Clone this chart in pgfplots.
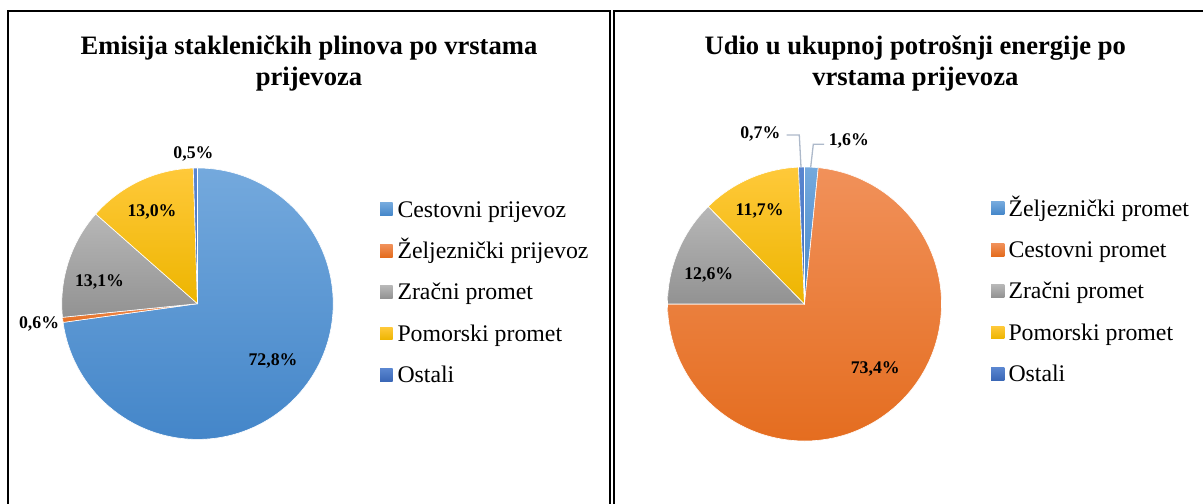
\documentclass[border=0pt]{standalone}
\usepackage{pgfplots}
\pgfplotsset{compat=1.18}
\usepackage{pgfplotstable}
\usepackage{fontspec}
\setmainfont{Liberation Serif}

\definecolor{C0T}{HTML}{74A9DD}
\definecolor{C0B}{HTML}{4486C9}
\definecolor{C1T}{HTML}{F1915A}
\definecolor{C1B}{HTML}{E46C1E}
\definecolor{C2T}{HTML}{B7B7B7}
\definecolor{C2B}{HTML}{929292}
\definecolor{C3T}{HTML}{FFC93A}
\definecolor{C3B}{HTML}{EDB500}
\definecolor{C4T}{HTML}{5A86D0}
\definecolor{C4B}{HTML}{3A67B6}
\definecolor{leader}{HTML}{ADB9CA}

% value = share in %, lx/ly = label centre relative to pie centre (px)
\pgfplotstableread{
value lx ly name
72.8 75.5 -56.3 {Cestovni prijevoz}
0.6 -158.4 -19 {Željeznički prijevoz}
13.1 -98 23 {Zračni promet}
13.0 -45.5 92.7 {Pomorski promet}
0.5 -4 151 {Ostali}
}\leftdata

\pgfplotstableread{
value lx ly name
1.6 44.3 164 {Željeznički promet}
73.4 70.8 -63.7 {Cestovni promet}
12.6 -95.7 30.7 {Zračni promet}
11.7 -44.8 94 {Pomorski promet}
0.7 -44.2 171.3 {Ostali}
}\rightdata

\newcommand\preparepie[4]{%
  \def\cum{0}%
  \pgfplotsforeachungrouped \i in {0,...,4}{%
    \pgfplotstablegetelem{\i}{value}\of{#1}\let\val\pgfplotsretval
    \pgfplotstablegetelem{\i}{lx}\of{#1}\let\lx\pgfplotsretval
    \pgfplotstablegetelem{\i}{ly}\of{#1}\let\ly\pgfplotsretval
    \pgfplotstablegetelem{\i}{name}\of{#1}\let\nm\pgfplotsretval
    \pgfmathsetmacro\sa{90-3.6*\cum}%
    \pgfmathsetmacro\ea{90-3.6*(\cum+\val)}%
    \pgfmathsetmacro\sx{#3*cos(\sa)}%
    \pgfmathsetmacro\sy{#3*sin(\sa)}%
    \pgfmathsetmacro\cum{\cum+\val}%
    \pgfmathsetmacro\lyb{\ly-6}%
    \pgfmathsetmacro\yc{#4-41.4*\i}%
    \pgfmathsetmacro\ylo{\yc-6.35}%
    \pgfmathsetmacro\yhi{\yc+6.35}%
    \pgfmathsetmacro\ytx{\yc-7.8}%
    \expandafter\xdef\csname #2sa\i\endcsname{\sa}%
    \expandafter\xdef\csname #2ea\i\endcsname{\ea}%
    \expandafter\xdef\csname #2sx\i\endcsname{\sx}%
    \expandafter\xdef\csname #2sy\i\endcsname{\sy}%
    \expandafter\xdef\csname #2val\i\endcsname{\val}%
    \expandafter\xdef\csname #2lx\i\endcsname{\lx}%
    \expandafter\xdef\csname #2ly\i\endcsname{\lyb}%
    \expandafter\xdef\csname #2ylo\i\endcsname{\ylo}%
    \expandafter\xdef\csname #2yhi\i\endcsname{\yhi}%
    \expandafter\xdef\csname #2ytx\i\endcsname{\ytx}%
    \expandafter\xdef\csname #2name\i\endcsname{\nm}%
  }%
}
\preparepie{\leftdata}{L}{135.7}{94.4}
\preparepie{\rightdata}{R}{137}{95.7}

\pgfplotsset{pie axis/.style={anchor=center, x=1bp, y=1bp,
  xmin=-150, xmax=150, ymin=-150, ymax=150, hide axis, clip=false,
  disabledatascaling}}

\newcommand\lblfont{\bfseries\fontsize{17.8bp}{20bp}\selectfont}
\newcommand\legfont{\fontsize{23.8bp}{28bp}\selectfont}
\newcommand\titfont{\bfseries\fontsize{26.6bp}{31bp}\selectfont}

\begin{document}
\begin{tikzpicture}[x=1bp,y=1bp]
\useasboundingbox (0,0) rectangle (1203,504);
\draw[line width=1.8bp] (8.3,-5) -- (8.3,493.3) -- (610,493.3) -- (610,-5);
\draw[line width=1.8bp] (613.7,-5) -- (613.7,493.3) -- (1215,493.3);

\node[anchor=base, inner sep=0pt, font=\titfont] at (309,449) {Emisija stakleničkih plinova po vrstama};
\node[anchor=base, inner sep=0pt, font=\titfont] at (309,418) {prijevoza};
\node[anchor=base, inner sep=0pt, font=\titfont] at (915.3,449) {Udio u ukupnoj potrošnji energije po};
\node[anchor=base, inner sep=0pt, font=\titfont] at (915.3,418) {vrstama prijevoza};

\begin{axis}[pie axis, at={(197.5,200.3)}]
\pgfplotsinvokeforeach{0,...,4}{
  \shadedraw[draw=white, line width=0.6bp, top color=C#1T, bottom color=C#1B]
    (axis cs:0,0) -- (axis cs:\csname Lsx#1\endcsname,\csname Lsy#1\endcsname)
    arc[start angle=\csname Lsa#1\endcsname, end angle=\csname Lea#1\endcsname, radius=135.7bp] -- cycle;
}
\pgfplotsinvokeforeach{0,...,4}{
  \node[anchor=base, inner sep=0pt, font=\lblfont] at (axis cs:\csname Llx#1\endcsname,\csname Lly#1\endcsname)
    {\pgfmathprintnumber[fixed,fixed zerofill,precision=1,use comma,assume math mode=true]{\csname Lval#1\endcsname}\%};
  \shade[top color=C#1T, bottom color=C#1B] (axis cs:182.5,\csname Lylo#1\endcsname) rectangle (axis cs:195.2,\csname Lyhi#1\endcsname);
  \node[anchor=base west, inner sep=0pt, font=\legfont] at (axis cs:199.8,\csname Lytx#1\endcsname) {\csname Lname#1\endcsname};
}
\end{axis}

\begin{axis}[pie axis, at={(804.5,200)}]
\pgfplotsinvokeforeach{0,...,4}{
  \shadedraw[draw=white, line width=0.6bp, top color=C#1T, bottom color=C#1B]
    (axis cs:0,0) -- (axis cs:\csname Rsx#1\endcsname,\csname Rsy#1\endcsname)
    arc[start angle=\csname Rsa#1\endcsname, end angle=\csname Rea#1\endcsname, radius=137bp] -- cycle;
}
\draw[leader, line width=1.3bp] (axis cs:-17.8,169) -- (axis cs:-5.2,169) -- (axis cs:-3.5,137);
\draw[leader, line width=1.3bp] (axis cs:19.5,159.7) -- (axis cs:8.8,159.7) -- (axis cs:6.2,137);
\pgfplotsinvokeforeach{0,...,4}{
  \node[anchor=base, inner sep=0pt, font=\lblfont] at (axis cs:\csname Rlx#1\endcsname,\csname Rly#1\endcsname)
    {\pgfmathprintnumber[fixed,fixed zerofill,precision=1,use comma,assume math mode=true]{\csname Rval#1\endcsname}\%};
  \shade[top color=C#1T, bottom color=C#1B] (axis cs:186.5,\csname Rylo#1\endcsname) rectangle (axis cs:199.8,\csname Ryhi#1\endcsname);
  \node[anchor=base west, inner sep=0pt, font=\legfont] at (axis cs:203.8,\csname Rytx#1\endcsname) {\csname Rname#1\endcsname};
}
\end{axis}
\end{tikzpicture}
\end{document}
